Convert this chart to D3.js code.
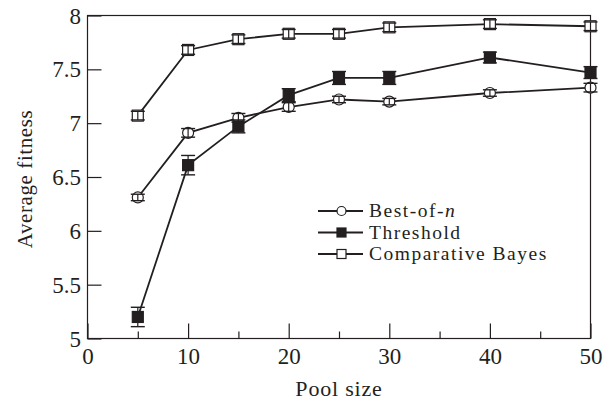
<!DOCTYPE html>
<html>
<head>
<meta charset="utf-8">
<script src="https://cdn.jsdelivr.net/npm/d3@7"></script>
<style>
  html, body { margin: 0; padding: 0; background: #fff; }
  svg text { font-family: "Liberation Serif", "DejaVu Serif", serif; fill: #231f20; }
</style>
</head>
<body>
<svg id="chart" width="612" height="401"></svg>
<script>
// Pool sizes on the x axis
const poolSizes = [5, 10, 15, 20, 25, 30, 40, 50];

// Mean fitness per strategy, with error-bar half widths
const bestOfN      = [6.31, 6.91, 7.05, 7.15, 7.22, 7.20, 7.28, 7.33];
const bestOfNErr   = [0.03, 0.04, 0.04, 0.04, 0.03, 0.03, 0.03, 0.04];
const threshold    = [5.20, 6.61, 6.97, 7.26, 7.42, 7.42, 7.61, 7.47];
const thresholdErr = [0.09, 0.09, 0.06, 0.06, 0.06, 0.06, 0.05, 0.055];
const compBayes    = [7.07, 7.68, 7.78, 7.83, 7.83, 7.89, 7.92, 7.90];
const compBayesErr = [0.04, 0.04, 0.04, 0.04, 0.04, 0.04, 0.04, 0.04];

const seriesNames = ["Best-of-n", "Threshold", "Comparative Bayes"];
const xTicks = [0, 10, 20, 30, 40, 50];
const xMinorTicks = [5, 15, 25, 35, 45];
const yTicks = [5, 5.5, 6, 6.5, 7, 7.5, 8];

const ink = "#231f20";
const svg = d3.select("#chart");
const m = { left: 87.5, top: 15.5, right: 590.5, bottom: 338.5 };

const x = d3.scaleLinear().domain([0, 50]).range([m.left, m.right]);
const y = d3.scaleLinear().domain([5, 8]).range([m.bottom, m.top]);

// Frame
svg.append("rect")
  .attr("x", m.left).attr("y", m.top)
  .attr("width", m.right - m.left).attr("height", m.bottom - m.top)
  .attr("fill", "none").attr("stroke", ink).attr("stroke-width", 1.2);

// Bottom axis: inward major + minor ticks
const xAxis = svg.append("g").attr("transform", `translate(0,${m.bottom})`)
  .call(d3.axisBottom(x).tickValues(xTicks).tickSizeInner(-15).tickSizeOuter(0).tickFormat(d3.format("d")));
xAxis.select(".domain").remove();
xAxis.selectAll(".tick line").attr("stroke", ink).attr("stroke-width", 1.2);
xAxis.selectAll(".tick text").attr("y", 25.5).attr("dy", 0)
  .style("font-size", "23px").attr("fill", ink);
const xMinor = svg.append("g").attr("transform", `translate(0,${m.bottom})`)
  .call(d3.axisBottom(x).tickValues(xMinorTicks).tickSizeInner(-7).tickSizeOuter(0).tickFormat(""));
xMinor.select(".domain").remove();
xMinor.selectAll(".tick line").attr("stroke", ink).attr("stroke-width", 1.2);

// Left axis: inward ticks
const yAxis = svg.append("g").attr("transform", `translate(${m.left},0)`)
  .call(d3.axisLeft(y).tickValues(yTicks).tickSizeInner(-14).tickSizeOuter(0).tickFormat(d => d3.format("")(d)));
yAxis.select(".domain").remove();
yAxis.selectAll(".tick line").attr("stroke", ink).attr("stroke-width", 1.2);
yAxis.selectAll(".tick text").attr("x", -6.5).attr("dy", "0.33em")
  .style("font-size", "23px").attr("fill", ink);

// Axis titles
svg.append("text").attr("x", (m.left + m.right) / 2).attr("y", 396)
  .attr("text-anchor", "middle").style("font-size", "22px").style("letter-spacing", "0.8px")
  .text("Pool size");
svg.append("text").attr("transform", `translate(32,${(m.top + m.bottom) / 2 + 2}) rotate(-90)`)
  .attr("text-anchor", "middle").style("font-size", "21px").style("letter-spacing", "0.6px")
  .text("Average fitness");

const series = [
  { vals: bestOfN, err: bestOfNErr, shape: "circle", fill: "#fff" },
  { vals: threshold, err: thresholdErr, shape: "square", fill: ink },
  { vals: compBayes, err: compBayesErr, shape: "square", fill: "#fff" }
];

const line = d3.line().x((d, i) => x(poolSizes[i])).y(d => y(d));

series.forEach(s => {
  const g = svg.append("g");
  g.append("path").datum(s.vals).attr("d", line)
    .attr("fill", "none").attr("stroke", ink).attr("stroke-width", 1.8);
  const pts = g.selectAll(".pt").data(s.vals.map((v, i) => ({ x: poolSizes[i], v, e: s.err[i] })))
    .enter().append("g").attr("class", "pt");
  if (s.shape === "circle") {
    pts.append("circle").attr("cx", d => x(d.x)).attr("cy", d => y(d.v)).attr("r", 5.5)
      .attr("fill", s.fill).attr("stroke", ink).attr("stroke-width", 1.2);
  } else {
    pts.append("rect").attr("x", d => x(d.x) - 5.5).attr("y", d => y(d.v) - 5.5)
      .attr("width", 11).attr("height", 11)
      .attr("fill", s.fill).attr("stroke", ink).attr("stroke-width", 1.2);
  }
  // Error bars drawn over the markers
  pts.append("line")
    .attr("x1", d => x(d.x)).attr("x2", d => x(d.x))
    .attr("y1", d => y(d.v + d.e)).attr("y2", d => y(d.v - d.e))
    .attr("stroke", ink).attr("stroke-width", 1.2);
  [1, -1].forEach(sign => {
    pts.append("line")
      .attr("x1", d => x(d.x) - 7).attr("x2", d => x(d.x) + 7)
      .attr("y1", d => y(d.v + sign * d.e)).attr("y2", d => y(d.v + sign * d.e))
      .attr("stroke", ink).attr("stroke-width", 1.4);
  });
});

// Legend
const legendRows = [211, 232.5, 254];
const lx0 = 318, lx1 = 363, lmid = 341.5;
series.forEach((s, i) => {
  const ly = legendRows[i];
  svg.append("line").attr("x1", lx0).attr("x2", lx1).attr("y1", ly).attr("y2", ly)
    .attr("stroke", ink).attr("stroke-width", 1.8);
  if (s.shape === "circle") {
    svg.append("circle").attr("cx", lmid).attr("cy", ly).attr("r", 4.5)
      .attr("fill", s.fill).attr("stroke", ink).attr("stroke-width", 1.2);
  } else {
    svg.append("rect").attr("x", lmid - 4.5).attr("y", ly - 4.5).attr("width", 9).attr("height", 9)
      .attr("fill", s.fill).attr("stroke", ink).attr("stroke-width", 1.2);
  }
  const t = svg.append("text").attr("x", 369).attr("y", ly).attr("dy", "0.33em")
    .style("font-size", "19.5px").style("letter-spacing", "1.5px");
  if (i === 0) {
    t.append("tspan").text("Best-of-");
    t.append("tspan").style("font-style", "italic").text("n");
  } else {
    t.text(seriesNames[i]);
  }
});
</script>
</body>
</html>
